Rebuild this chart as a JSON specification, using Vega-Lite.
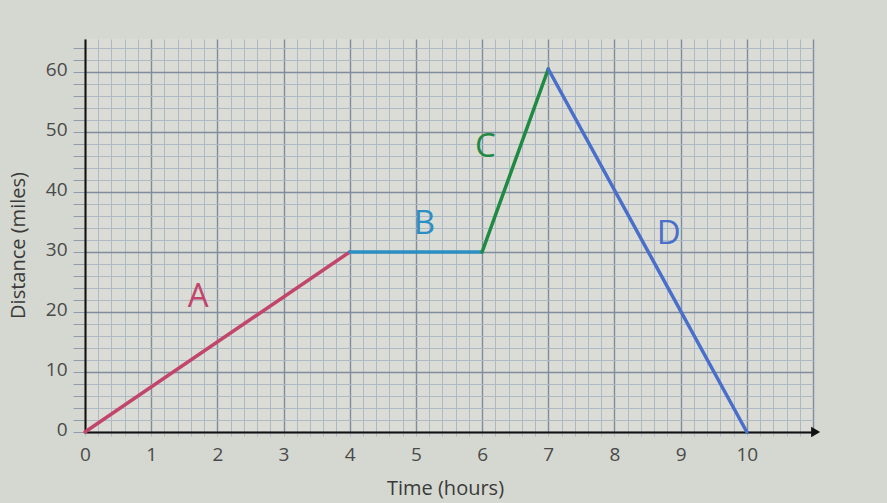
{
  "$schema": "https://vega.github.io/schema/vega-lite/v6.json",
  "autosize": "none",
  "width": 728,
  "height": 393,
  "padding": {"left": 85, "top": 39, "right": 74, "bottom": 71},
  "background": "#d5d8d0",
  "config": {
    "view": {"fill": "#dadcd5", "stroke": null},
    "font": "Open Sans"
  },
  "datasets": {
    "segs": [
      {"t": 0, "d": 0, "seg": "A"},
      {"t": 4, "d": 30, "seg": "A"},
      {"t": 4, "d": 30, "seg": "B"},
      {"t": 6, "d": 30, "seg": "B"},
      {"t": 6, "d": 30, "seg": "C"},
      {"t": 7, "d": 60.5, "seg": "C"},
      {"t": 7, "d": 60.5, "seg": "D"},
      {"t": 10, "d": 0, "seg": "D"}
    ],
    "labels": [
      {"t": 1.71, "d": 22.5, "seg": "A"},
      {"t": 5.13, "d": 34.7, "seg": "B"},
      {"t": 6.05, "d": 47.5, "seg": "C"},
      {"t": 8.82, "d": 33, "seg": "D"}
    ],
    "arrow": [{"t": 11.04, "d": 0}]
  },
  "encoding": {
    "x": {
      "field": "t", "type": "quantitative",
      "scale": {"domain": [0, 11], "nice": false, "zero": false},
      "axis": {
        "title": "Time (hours)",
        "values": [0,0.2,0.4,0.6,0.8,1,1.2,1.4,1.6,1.8,2,2.2,2.4,2.6,2.8,3,3.2,3.4,3.6,3.8,4,4.2,4.4,4.6,4.8,5,5.2,5.4,5.6,5.8,6,6.2,6.4,6.6,6.8,7,7.2,7.4,7.6,7.8,8,8.2,8.4,8.6,8.8,9,9.2,9.4,9.6,9.8,10,10.2,10.4,10.6,10.8,11],
        "labelExpr": "abs(datum.value - round(datum.value)) < 0.01 && datum.value < 10.5 ? toString(round(datum.value)) : ''",
        "grid": true,
        "gridColor": {"condition": {"test": "abs(datum.value - round(datum.value)) < 0.01", "value": "#7f8d9f"}, "value": "#aeb9c6"},
        "gridWidth": {"condition": {"test": "abs(datum.value - round(datum.value)) < 0.01", "value": 1.4}, "value": 1},
        "tickColor": "#aeb9c6",
        "tickSize": 4,
        "domainColor": "#111111",
        "domainWidth": 2,
        "labelFontSize": 19,
        "labelColor": "#4a4a4a",
        "labelPadding": 9,
        "labelFlush": false,
        "labelOverlap": false,
        "titleFontSize": 20,
        "titleFontWeight": "normal",
        "titleColor": "#3a3a3a",
        "titleX": 360,
        "titleY": 56,
        "titleBaseline": "middle"
      }
    },
    "y": {
      "field": "d", "type": "quantitative",
      "scale": {"domain": [0, 65.5], "nice": false, "zero": false},
      "axis": {
        "title": "Distance (miles)",
        "values": [0,2,4,6,8,10,12,14,16,18,20,22,24,26,28,30,32,34,36,38,40,42,44,46,48,50,52,54,56,58,60,62,64],
        "labelExpr": "datum.value % 10 === 0 ? toString(datum.value) : ''",
        "grid": true,
        "gridColor": {"condition": {"test": "datum.value % 10 === 0", "value": "#7f8d9f"}, "value": "#aeb9c6"},
        "gridWidth": {"condition": {"test": "datum.value % 10 === 0", "value": 1.4}, "value": 1},
        "tickColor": "#909cac",
        "tickSize": 12,
        "domainColor": "#111111",
        "domainWidth": 2,
        "labelFontSize": 19,
        "labelColor": "#4a4a4a",
        "labelPadding": 6,
        "labelOffset": -3,
        "labelFlush": false,
        "labelOverlap": false,
        "titleFontSize": 20,
        "titleFontWeight": "normal",
        "titleColor": "#3a3a3a",
        "titleX": -67,
        "titleY": 206,
        "titleAlign": "center",
        "titleBaseline": "middle"
      }
    }
  },
  "layer": [
    {
      "data": {"name": "segs"},
      "mark": {"type": "line", "strokeWidth": 3.5, "strokeCap": "round"},
      "encoding": {
        "color": {"field": "seg", "type": "nominal", "legend": null,
          "scale": {"domain": ["A", "B", "C", "D"], "range": ["#c2456b", "#2b8fc4", "#1f8a43", "#4a6fcb"]}},
        "detail": {"field": "seg"}
      }
    },
    {
      "data": {"name": "labels"},
      "mark": {"type": "text", "fontSize": 33, "font": "Open Sans", "baseline": "middle", "align": "center"},
      "encoding": {
        "text": {"field": "seg"},
        "color": {"field": "seg", "type": "nominal", "legend": null,
          "scale": {"domain": ["A", "B", "C", "D"], "range": ["#d2506f", "#2b8fc4", "#1f8a43", "#5a6fcb"]}}
      }
    },
    {
      "data": {"name": "arrow"},
      "mark": {"type": "point", "shape": "triangle-right", "filled": true, "color": "#111111", "size": 110, "opacity": 1, "clip": false}
    }
  ]
}
